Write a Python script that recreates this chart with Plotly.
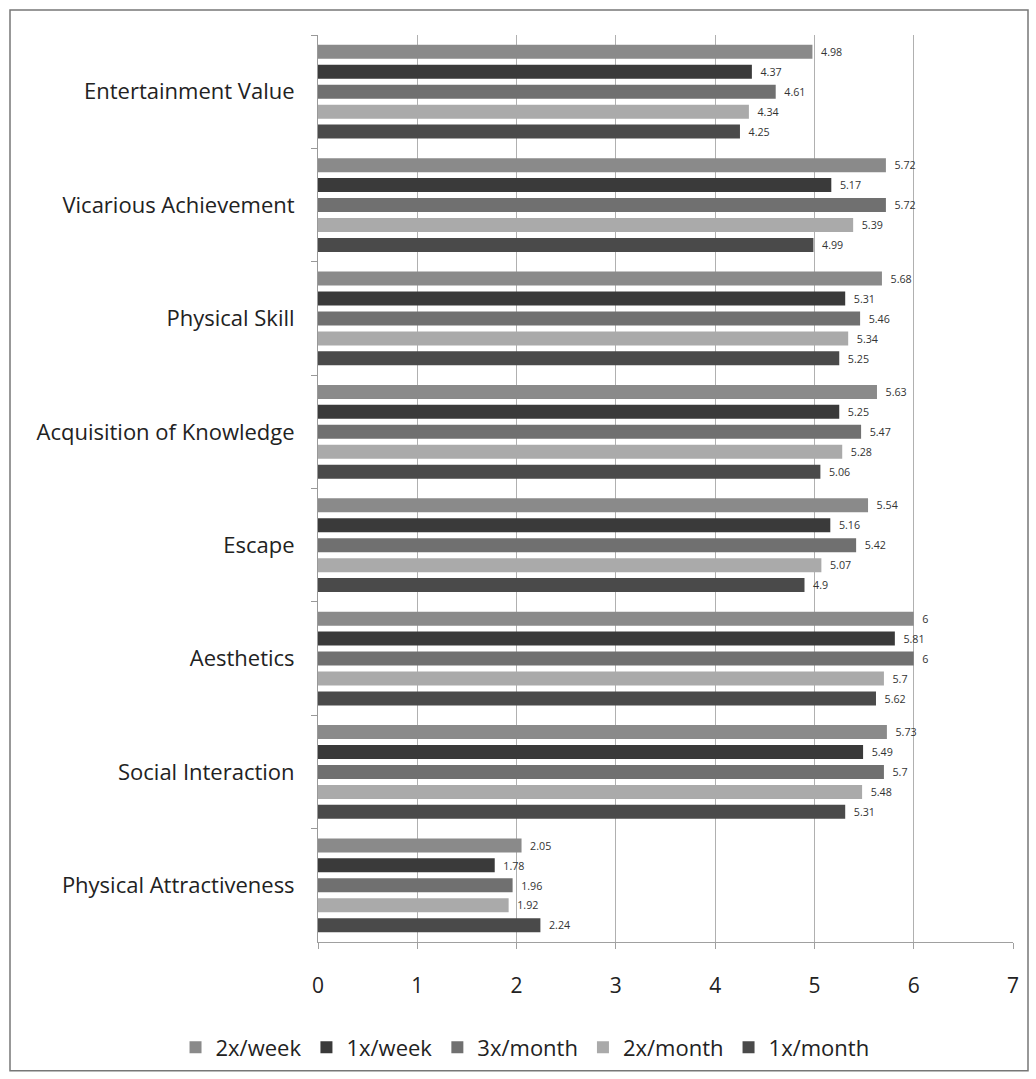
import plotly.graph_objects as go

categories = ["Entertainment Value", "Vicarious Achievement", "Physical Skill",
              "Acquisition of Knowledge", "Escape", "Aesthetics",
              "Social Interaction", "Physical Attractiveness"]
series_names = ["2x/week", "1x/week", "3x/month", "2x/month", "1x/month"]
v_2x_week = [4.98, 5.72, 5.68, 5.63, 5.54, 6, 5.73, 2.05]
v_1x_week = [4.37, 5.17, 5.31, 5.25, 5.16, 5.81, 5.49, 1.78]
v_3x_month = [4.61, 5.72, 5.46, 5.47, 5.42, 6, 5.7, 1.96]
v_2x_month = [4.34, 5.39, 5.34, 5.28, 5.07, 5.7, 5.48, 1.92]
v_1x_month = [4.25, 4.99, 5.25, 5.06, 4.9, 5.62, 5.31, 2.24]
x_ticks = [0, 1, 2, 3, 4, 5, 6, 7]

series_values = [v_2x_week, v_1x_week, v_3x_month, v_2x_month, v_1x_month]
colors = ["#8a8a8a", "#3a3a3a", "#707070", "#aaaaaa", "#4a4a4a"]

fig = go.Figure()
for name, vals, col in zip(series_names, series_values, colors):
    fig.add_trace(go.Bar(
        y=categories, x=vals, name=name, orientation="h",
        marker=dict(color=col, line=dict(width=0)),
        text=["\u00a0\u00a0" + f"{v:g}" for v in vals], textposition="outside",
        textfont=dict(size=11.5, color="#333333", family="Open Sans"),
        cliponaxis=False,
    ))

fig.update_layout(
    width=1036, height=1079,
    margin=dict(l=318, r=23, t=35, b=136),
    paper_bgcolor="white", plot_bgcolor="white",
    barmode="group", bargap=0.12, bargroupgap=0.3,
    font=dict(family="Open Sans", color="#222222"),
    showlegend=True,
    legend=dict(orientation="h", x=-0.205, xanchor="left", y=-0.115, yanchor="middle",
                font=dict(size=22, color="#222222"), traceorder="normal",
                itemwidth=30),
    xaxis=dict(range=[0, 7], tickvals=x_ticks, showgrid=True, gridcolor="#b0b0b0",
               gridwidth=1, zeroline=False, showline=True, linecolor="#a0a0a0",
               tickfont=dict(size=21, color="#222222"), ticks="outside", ticklen=6,
               tickcolor="#a0a0a0", ticklabelstandoff=19),
    yaxis=dict(autorange="reversed", tickfont=dict(size=22, color="#222222"),
               showline=True, linecolor="#999999", ticks="outside", tickson="boundaries",
               ticklen=6, tickcolor="#999999", showgrid=False, ticklabelstandoff=18),
    shapes=[dict(type="rect", xref="paper", yref="paper",
                 x0=(10 - 318) / 695, x1=(1028 - 318) / 695,
                 y0=(943 - 1072) / 908, y1=(943 - 10) / 908,
                 line=dict(color="#777777", width=1.5))],
)

fig.write_html("out.html")
